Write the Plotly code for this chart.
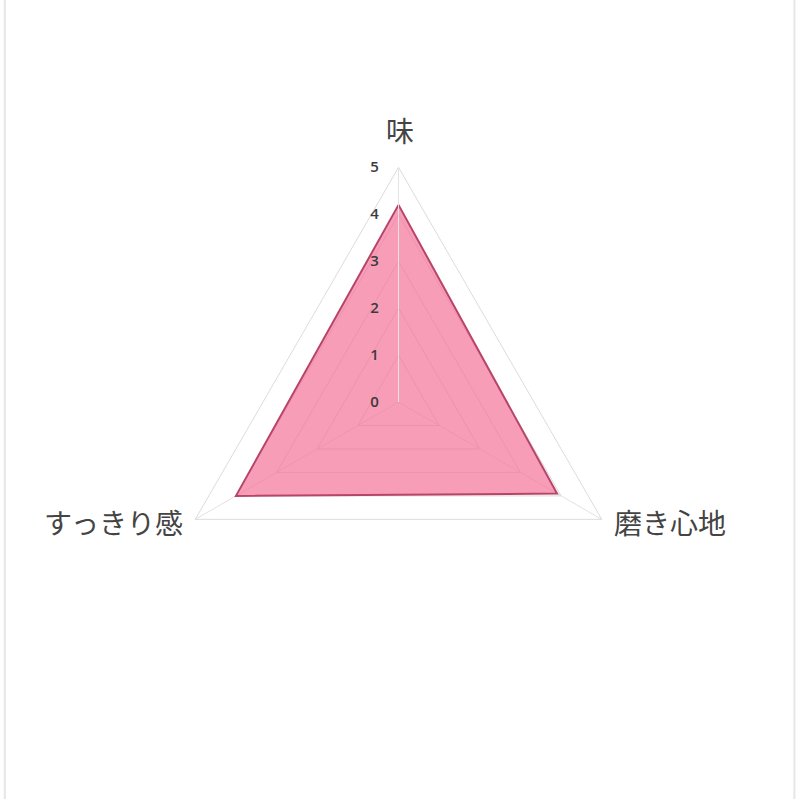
import plotly.graph_objects as go

# radar data
categories = ["味", "磨き心地", "すっきり感"]
scores = [4.2, 3.9, 4.0]
tick_vals = [0, 1, 2, 3, 4, 5]

fig = go.Figure()
fig.add_trace(go.Scatterpolar(
    r=scores + scores[:1],
    theta=categories + categories[:1],
    mode="lines",
    fill="toself",
    fillcolor="rgba(243, 115, 152, 0.7)",
    line=dict(color="rgb(185, 68, 105)", width=2),
    hoverinfo="skip",
))

# category labels placed by hand around the triangle (paper coords)
label_pos = [
    dict(x=0.5, y=0.8373, xanchor="center"),
    dict(x=0.765, y=0.3467, xanchor="left"),
    dict(x=0.2313, y=0.3467, xanchor="right"),
]
annotations = [
    dict(text=name, xref="paper", yref="paper", showarrow=False, yanchor="middle",
         font=dict(size=28, color="#444"), **pos)
    for name, pos in zip(categories, label_pos)
]

fig.update_layout(
    width=800, height=799,
    margin=dict(l=0, r=0, t=0, b=0),
    paper_bgcolor="white",
    showlegend=False,
    font=dict(family="Noto Sans CJK JP, sans-serif", color="#444"),
    annotations=annotations,
    polar=dict(
        domain=dict(x=[0.2048, 0.7915], y=[0.2031, 0.7906]),
        bgcolor="white",
        gridshape="linear",
        angularaxis=dict(
            rotation=90, direction="clockwise",
            gridcolor="#e2e2e2", linecolor="#dcdcdc", linewidth=1,
            showticklabels=False, ticks="",
        ),
        radialaxis=dict(
            range=[0, 5], tickvals=tick_vals, angle=90,
            gridcolor="#dadada", linecolor="#e4e4e4",
            showline=True,
            ticks="outside", ticklen=14, tickcolor="rgba(0,0,0,0)",
            tickfont=dict(size=15, color="#3a3a3a", family="Open Sans", weight=600),
            tickangle=90, side="counterclockwise",
        ),
    ),
    shapes=[
        dict(type="line", xref="paper", yref="paper", x0=0.006, x1=0.006, y0=0, y1=1,
             line=dict(color="#e6e6e6", width=2)),
        dict(type="line", xref="paper", yref="paper", x0=0.993, x1=0.993, y0=0, y1=1,
             line=dict(color="#e6e6e6", width=2)),
    ],
)

# page body has a default margin; remove it so the figure sits at the window origin
fig.write_html("out.html", config={"displayModeBar": False},
               post_script="document.body.style.margin='0';")
